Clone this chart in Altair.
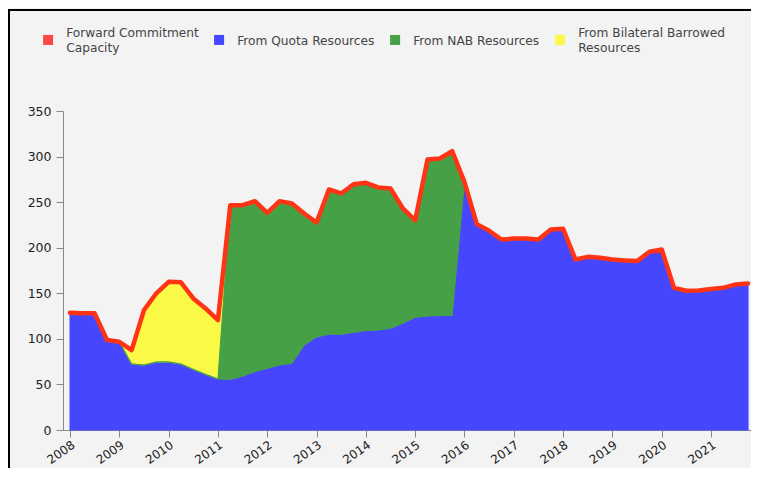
import altair as alt
import pandas as pd

years = [
    2008.0, 2008.25, 2008.5, 2008.75,
    2009.0, 2009.25, 2009.5, 2009.75,
    2010.0, 2010.25, 2010.5, 2010.75,
    2011.0, 2011.25, 2011.5, 2011.75,
    2012.0, 2012.25, 2012.5, 2012.75,
    2013.0, 2013.25, 2013.5, 2013.75,
    2014.0, 2014.25, 2014.5, 2014.75,
    2015.0, 2015.25, 2015.5, 2015.75,
    2016.0, 2016.25, 2016.5, 2016.75,
    2017.0, 2017.25, 2017.5, 2017.75,
    2018.0, 2018.25, 2018.5, 2018.75,
    2019.0, 2019.25, 2019.5, 2019.75,
    2020.0, 2020.25, 2020.5, 2020.75,
    2021.0, 2021.25, 2021.5, 2021.75,
]

# Forward Commitment Capacity (red line)
fcc = [
    128.6, 128.0, 128.0, 98.7,
    96.8, 87.7, 131.6, 150.0,
    162.6, 162.0, 144.4, 133.4,
    120.6, 246.7, 246.7, 251.0,
    238.3, 251.0, 248.5, 237.6,
    227.7, 263.9, 259.5, 269.7,
    271.2, 266.1, 265.0, 243.1,
    230.0, 296.8, 297.9, 305.9,
    272.0, 225.9, 218.6, 209.0,
    210.0, 210.0, 209.0, 220.0,
    220.8, 187.1, 190.0, 189.0,
    187.0, 186.0, 185.3, 195.5,
    198.0, 156.0, 152.8, 153.0,
    154.6, 156.0, 159.7, 160.8,
]

# From Quota Resources
quota = [
    128.6, 128.0, 128.0, 98.7,
    96.8, 72.4, 71.3, 74.6,
    74.6, 72.4, 66.5, 61.0,
    56.0, 55.5, 59.0, 64.0,
    67.6, 71.3, 73.0, 93.0,
    102.0, 105.0, 105.0, 107.0,
    109.0, 109.6, 111.5, 117.0,
    123.5, 125.0, 125.5, 125.5,
    272.0, 225.9, 218.6, 209.0,
    210.0, 210.0, 209.0, 220.0,
    220.8, 187.1, 190.0, 189.0,
    187.0, 186.0, 185.3, 195.5,
    198.0, 156.0, 152.8, 153.0,
    154.6, 156.0, 159.7, 160.8,
]

# From NAB Resources
nab = [
    0, 0, 0, 0,
    0, 0, 0, 0,
    0, 0, 0, 0,
    0, 191.2, 187.7, 187.0,
    170.7, 179.7, 175.5, 144.6,
    125.7, 158.9, 154.5, 162.7,
    162.2, 156.5, 153.5, 126.1,
    106.5, 171.8, 172.4, 180.4,
    0, 0, 0, 0,
    0, 0, 0, 0,
    0, 0, 0, 0,
    0, 0, 0, 0,
    0, 0, 0, 0,
    0, 0, 0, 0,
]

# From Bilateral Barrowed Resources
bilateral = [
    0, 0, 0, 0,
    0, 15.3, 60.3, 75.4,
    88.0, 89.6, 77.9, 72.4,
    64.6, 0, 0, 0,
    0, 0, 0, 0,
    0, 0, 0, 0,
    0, 0, 0, 0,
    0, 0, 0, 0,
    0, 0, 0, 0,
    0, 0, 0, 0,
    0, 0, 0, 0,
    0, 0, 0, 0,
    0, 0, 0, 0,
    0, 0, 0, 0,
]

series_names = [
    "Forward Commitment Capacity",
    "From Quota Resources",
    "From NAB Resources",
    "From Bilateral Barrowed Resources",
]
legend_colors = ["#ff4646", "#4646ff", "#46a046", "#fafa46"]
line_color = "#ff3414"
x_ticks = list(range(2008, 2022))

# stacked tables (quota at bottom, then NAB, then bilateral)
rows = []
for i, yr in enumerate(years):
    q = quota[i]
    n = nab[i]
    b = bilateral[i]
    rows.append({"year": yr, "series": series_names[1], "y0": 0, "y1": q})
    rows.append({"year": yr, "series": series_names[2], "y0": q, "y1": q + n})
    rows.append({"year": yr, "series": series_names[3], "y0": q + n, "y1": q + n + b})
stack_df = pd.DataFrame(rows)
line_df = pd.DataFrame({"year": years, "value": fcc})

x_scale = alt.Scale(domain=[2007.858, 2021.81], nice=False, zero=False)
y_scale = alt.Scale(domain=[0, 350], nice=False)
x_axis = alt.Axis(values=x_ticks, format="d", title=None, labelAngle=-35,
                  labelAlign="right", labelBaseline="top", labelPadding=2,
                  labelFontSize=12)
y_axis = alt.Axis(values=list(range(0, 351, 50)), title=None)

# three text rows per entry: wrapped names use rows 1 and 3, short names row 2
BL = "\u2800"  # blank filler row
label_expr = ("datum.label == 'Forward Commitment Capacity' ? ['Forward Commitment', '" + BL + "', 'Capacity'] : "
              "datum.label == 'From Bilateral Barrowed Resources' ? ['From Bilateral Barrowed', '" + BL + "', 'Resources'] : "
              "['" + BL + "', datum.label, '" + BL + "']")

legend = alt.Legend(
    title=None, orient="none", legendX=-21, legendY=-84, direction="horizontal",
    symbolType="M-1,0.3L1,0.3L1,2.3L-1,2.3Z", symbolSize=100, symbolStrokeWidth=0,
    labelFont="DejaVu Sans", labelFontSize=12.2, labelColor="#444444",
    labelOffset=12, columnPadding=14, labelLimit=400, padding=0,
    labelBaseline="middle", labelExpr=label_expr,
)

fill_scale = alt.Scale(domain=series_names, range=legend_colors)


def area_layer(idx, show_legend):
    name = series_names[idx]
    col = legend_colors[idx]
    return alt.Chart(stack_df).transform_filter(
        alt.datum.series == name
    ).mark_area(stroke=col, strokeWidth=1, opacity=1).encode(
        x=alt.X("year:Q", scale=x_scale, axis=x_axis),
        y=alt.Y("y0:Q", scale=y_scale, axis=y_axis),
        y2="y1:Q",
        fill=alt.Fill("series:N", scale=fill_scale, legend=legend if show_legend else None),
    )


blue = area_layer(1, True)
yellow = area_layer(3, False)
green = area_layer(2, False)

line = alt.Chart(line_df).mark_line(
    color=line_color, strokeWidth=4.5, strokeJoin="round", strokeCap="round"
).encode(
    x=alt.X("year:Q", scale=x_scale, axis=x_axis),
    y=alt.Y("value:Q", scale=y_scale, axis=y_axis),
)

one = pd.DataFrame({"k": [0]})
border_top = alt.Chart(one).mark_rule(color="#000000", strokeWidth=2).encode(
    x=alt.value(-54), x2=alt.value(720), y=alt.value(-101)
)
border_left = alt.Chart(one).mark_rule(color="#000000", strokeWidth=2).encode(
    x=alt.value(-54), y=alt.value(-102), y2=alt.value(400)
)

chart = alt.layer(blue, yellow, green, line, border_top, border_left).properties(
    width=688, height=319,
    autosize=alt.AutoSizeParams(type="none"),
    padding={"left": 55, "top": 103, "right": 0, "bottom": 38},
    background="#f3f3f3",
).configure(
    style={"guide-label": {"lineHeight": 7.5}},
).configure_view(stroke=None).configure_axis(
    domainColor="#888888", tickColor="#888888", tickSize=7, labelPadding=5,
    labelFont="DejaVu Sans", labelFontSize=12.5, labelColor="#222222", grid=False,
)

chart.save("out.html", embed_options={"renderer": "svg", "actions": False})
